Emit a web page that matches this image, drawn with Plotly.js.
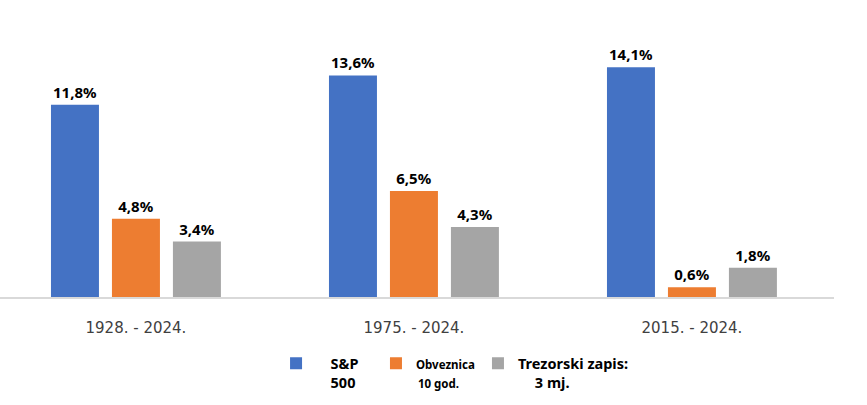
<!DOCTYPE html>
<html>
<head>
<meta charset="utf-8">
<script src="https://cdn.plot.ly/plotly-3.0.1.min.js"></script>
<style>html,body{margin:0;padding:0;background:#fff;}#chart{width:867px;height:405px;}</style>
</head>
<body>
<div id="chart"></div>
<script>
const categories = ["1928. - 2024.", "1975. - 2024.", "2015. - 2024."];
const seriesNames = ["&#8195;S&P<br>&#8195;500", "<span style=\"font-size:11.5px\">Obveznica<br>&#8201;10 god.</span>", "Trezorski zapis:<br>&#8195;&#8201;3 mj."];
const sp500 = [11.8, 13.6, 14.1];
const bonds10y = [4.8, 6.5, 0.6];
const tbill3m = [3.4, 4.3, 1.8];
const colors = ["#4472C4", "#ED7D31", "#A5A5A5"];

const fmt = v => v.toFixed(1).replace(".", ",") + "%";
const values = [sp500, bonds10y, tbill3m];
const legendIds = ["legend", "legend2", "legend3"];
const traces = values.map((vals, i) => ({
  type: "bar",
  name: seriesNames[i],
  legend: legendIds[i],
  x: categories,
  y: vals,
  marker: {color: colors[i]},
  text: vals.map(fmt),
  textposition: "outside",
  cliponaxis: false,
  textfont: {family: "Noto Sans", size: 15, color: "#000", weight: "bold"},
  hoverinfo: "skip"
}));

const legendBase = {
  orientation: "h", xanchor: "left", y: -0.182, yanchor: "top",
  valign: "top", bgcolor: "rgba(0,0,0,0)",
  font: {family: "Noto Sans", size: 14.5, color: "#000", weight: "bold"},
  itemclick: false
};

const layout = {
  width: 867, height: 405,
  margin: {l: 0, r: 33, t: 20, b: 108},
  paper_bgcolor: "#fff", plot_bgcolor: "#fff",
  barmode: "group",
  bargap: 0.342,
  bargroupgap: 0.213,
  showlegend: true,
  legend: Object.assign({}, legendBase, {x: 0.331}),
  legend2: Object.assign({}, legendBase, {x: 0.4508}),
  legend3: Object.assign({}, legendBase, {x: 0.5731}),
  xaxis: {
    range: [-0.489, 2.511],
    showline: true, linecolor: "#D9D9D9", linewidth: 2,
    showgrid: false, ticks: "", ticklabelstandoff: 16,
    tickfont: {family: "DejaVu Sans", size: 15, color: "#404040"}
  },
  yaxis: {visible: false, range: [0, 17], showgrid: false, zeroline: false}
};

Plotly.newPlot("chart", traces, layout, {displayModeBar: false, staticPlot: true});
</script>
</body>
</html>
